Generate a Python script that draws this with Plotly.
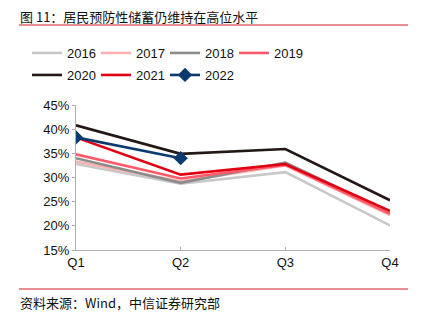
import plotly.graph_objects as go

quarters = ["Q1", "Q2", "Q3", "Q4"]
y_ticks = [15, 20, 25, 30, 35, 40, 45]
y_tick_labels = ["15%", "20%", "25%", "30%", "35%", "40%", "45%"]

s2016 = [32.8, 28.7, 31.1, 20.1]
s2017 = [33.3, 29.2, 32.5, 22.2]
s2018 = [34.0, 28.9, 33.1, 22.8]
s2019 = [34.8, 29.8, 32.6, 22.5]
s2020 = [40.8, 34.9, 35.9, 25.3]
s2021 = [38.3, 30.6, 32.8, 23.1]
s2022 = [38.3, 34.0]

series = [
    ("2016", s2016, "#c8c8c8", "legend"),
    ("2017", s2017, "#ffb0b0", "legend"),
    ("2018", s2018, "#8c8c8c", "legend"),
    ("2019", s2019, "#ff5a6a", "legend"),
    ("2020", s2020, "#231815", "legend2"),
    ("2021", s2021, "#e00012", "legend2"),
]

xs = list(range(len(quarters)))
fig = go.Figure()
for name, vals, col, lg in series:
    fig.add_trace(go.Scatter(x=xs[:len(vals)], y=vals, name=name, mode="lines",
                             legend=lg, line=dict(color=col, width=2.6)))
fig.add_trace(go.Scatter(x=xs[:len(s2022)], y=s2022, name="2022", mode="lines+markers",
                         legend="legend2",
                         line=dict(color="#0b3a6e", width=2.6),
                         marker=dict(symbol="diamond", size=11, color="#0b3a6e")))

L, R, T, B = 76, 34, 105, 71
W, H = 424, 321
pw, ph = W - L - R, H - T - B

def px(x):
    return (x - L) / pw

def py(y):
    return (H - B - y) / ph

font = "Liberation Sans, Arial, Noto Sans CJK SC, sans-serif"
leg_common = dict(orientation="h", xanchor="left", yanchor="middle",
                  entrywidth=24, entrywidthmode="pixels", itemwidth=30,
                  font=dict(size=13, color="#111"), tracegroupgap=0,
                  bgcolor="rgba(0,0,0,0)")
fig.update_layout(
    width=W, height=H,
    margin=dict(l=L, r=R, t=T, b=B),
    plot_bgcolor="white", paper_bgcolor="white",
    font=dict(family=font, size=13, color="#111"),
    showlegend=True,
    legend=dict(x=px(27), y=py(53), **leg_common),
    legend2=dict(x=px(27), y=py(75), **leg_common),
    xaxis=dict(range=[0, 3], tickmode="array", tickvals=xs, ticktext=quarters,
               showgrid=False, zeroline=False, showline=True, linecolor="#b0b0b0",
               linewidth=1, ticks="inside", ticklen=3, tickcolor="#b0b0b0",
               tickfont=dict(size=13, color="#111")),
    yaxis=dict(range=[15, 45], tickmode="array", tickvals=y_ticks, ticktext=y_tick_labels,
               showgrid=False, zeroline=False, showline=True, linecolor="#b0b0b0",
               linewidth=1, ticks="outside", ticklen=3, tickcolor="#b0b0b0",
               tickfont=dict(size=13, color="#111")),
)

cjk = "Noto Sans CJK SC, sans-serif"
fig.add_annotation(text="图 11：居民预防性储蓄仍维持在高位水平", xref="paper", yref="paper",
                   x=px(18), y=py(16), xanchor="left", yanchor="middle",
                   showarrow=False, font=dict(size=13, color="#111", family=cjk))
fig.add_annotation(text="资料来源：Wind，中信证券研究部", xref="paper", yref="paper",
                   x=px(18), y=py(302), xanchor="left", yanchor="middle",
                   showarrow=False, font=dict(size=13, color="#111", family=cjk))
for yy in (25, 289):
    fig.add_shape(type="line", xref="paper", yref="paper", x0=px(19), x1=px(408),
                  y0=py(yy), y1=py(yy), line=dict(color="#d21f26", width=1.2))

fig.write_html("out.html")
